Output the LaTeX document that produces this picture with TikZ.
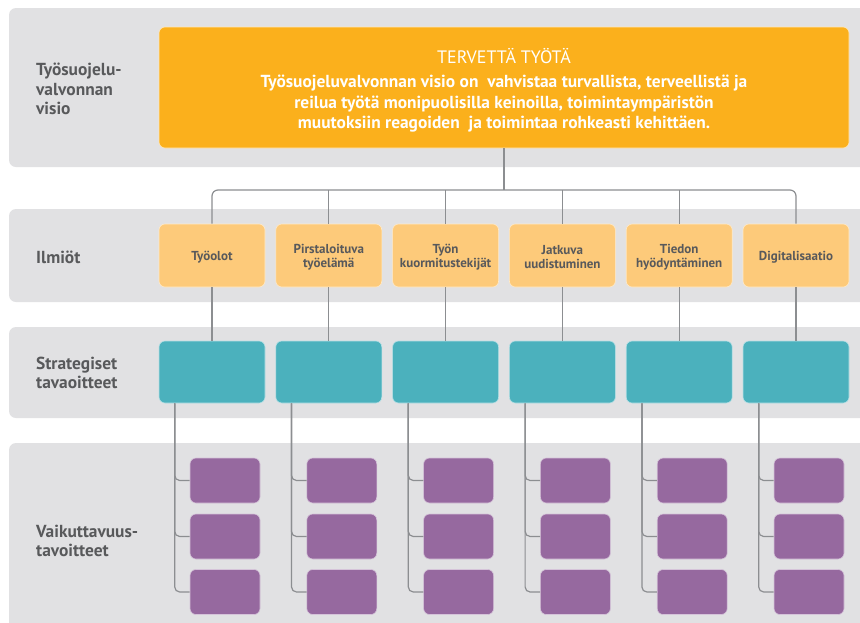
\documentclass[tikz,border=0pt]{standalone}
\usepackage{fontspec}
\setmainfont{PT Sans}
\usetikzlibrary{calc}
\definecolor{band}{HTML}{E1E1E3}
\definecolor{orangeA}{HTML}{FBB01C}
\definecolor{orangeB}{HTML}{FDCA7A}
\definecolor{tealA}{HTML}{4BB1BD}
\definecolor{purpleA}{HTML}{96699F}
\definecolor{txt}{HTML}{58595B}
\definecolor{conn}{HTML}{8C8E91}
\tikzset{
  bandbox/.style={fill=band, rounded corners=7pt},
  rowlabel/.style={anchor=west, align=left, text=txt, font=\fontsize{17.4}{19.5}\selectfont\bfseries, inner sep=0pt},
  visbox/.style={fill=orangeA, draw=white!70!orangeA, line width=0.6pt, rounded corners=6pt, minimum width=690pt, minimum height=121pt},
  vistext/.style={text=white, align=center, font=\fontsize{17.4}{20.6}\selectfont\bfseries, inner sep=0pt},
  ilmbox/.style={fill=orangeB, draw=white!60!orangeB, line width=0.6pt, rounded corners=6pt, minimum width=106pt, minimum height=63pt},
  ilmtext/.style={text=txt, align=center, font=\fontsize{13}{14}\selectfont\bfseries, inner sep=0pt},
  strbox/.style={fill=tealA, draw=white!60!tealA, line width=0.6pt, rounded corners=6pt, minimum width=106pt, minimum height=62pt},
  vaibox/.style={fill=purpleA, draw=white!60!purpleA, line width=0.6pt, rounded corners=6pt, minimum width=70pt, minimum height=45pt},
  connline/.style={draw=conn, line width=1.2pt},
}
\begin{document}
\begin{tikzpicture}[x=1pt,y=-1pt]
\clip (0,0) rectangle (860,622);
\fill[white] (0,0) rectangle (860,622);
% bands
\fill[bandbox] (9,8) rectangle (880,167);
\fill[bandbox] (9,209) rectangle (880,302);
\fill[bandbox] (9,327) rectangle (880,418);
\fill[bandbox] (9,443) rectangle (880,650);
% row labels
\node[rowlabel] (l1) at (36,89) {Työsuojelu-\\valvonnan\\visio};
\node[rowlabel] (l2) at (36,257) {Ilmiöt};
\node[rowlabel] (l3) at (36,373) {Strategiset\\tavaoitteet};
\node[rowlabel] (l4) at (36,541) {Vaikuttavuus-\\tavoitteet};
% vision
\node[visbox] (vis) at (504,87.5) {};
\node[vistext] (vt) at (504,90.5) {{\mdseries\fontsize{18}{20.5}\selectfont TERVETTÄ TYÖTÄ}\\[3pt]
Työsuojeluvalvonnan visio on\ \ vahvistaa turvallista, terveellistä ja\\
reilua työtä monipuolisilla keinoilla, toimintaympäristön\\
muutoksiin reagoiden\ \ ja toimintaa rohkeasti kehittäen.};
\coordinate (bus) at (0,190);
% columns
\foreach \i/\t in {1/{Työolot},2/{Pirstaloituva\\työelämä},3/{Työn\\kuormitustekijät},4/{Jatkuva\\uudistuminen},5/{Tiedon\\hyödyntäminen},6/{Digitalisaatio}}{
  \pgfmathsetmacro{\cx}{212+116.8*(\i-1)}
  \node[ilmbox] (i\i) at (\cx,255.5) {};
  \node[ilmtext] (it\i) at (\cx,257.5) {\t};
  \node[strbox] (s\i) at (\cx,372) {};
  \node[vaibox] (p\i a) at (\cx+13,480.5) {};
  \node[vaibox] (p\i b) at (\cx+13,536.5) {};
  \node[vaibox] (p\i c) at (\cx+13,592) {};
  \draw[connline] (i\i.south) -- (s\i.north);
  \coordinate (t\i) at ($(s\i.south west)+(16,0)$);
  \draw[connline, rounded corners=5pt] (t\i) |- (p\i a.west);
  \draw[connline, rounded corners=5pt] (t\i) |- (p\i b.west);
  \draw[connline, rounded corners=5pt] (t\i) |- (p\i c.west);
}
% bus
\draw[connline, rounded corners=6pt] (i1.north) |- (i6.north |- bus) -- (i6.north);
\foreach \i in {2,3,4,5}{
  \draw[connline] (i\i.north) -- (i\i.north |- bus);
}
\draw[connline] (vis.south) -- (vis.south |- bus);
\end{tikzpicture}
\end{document}
